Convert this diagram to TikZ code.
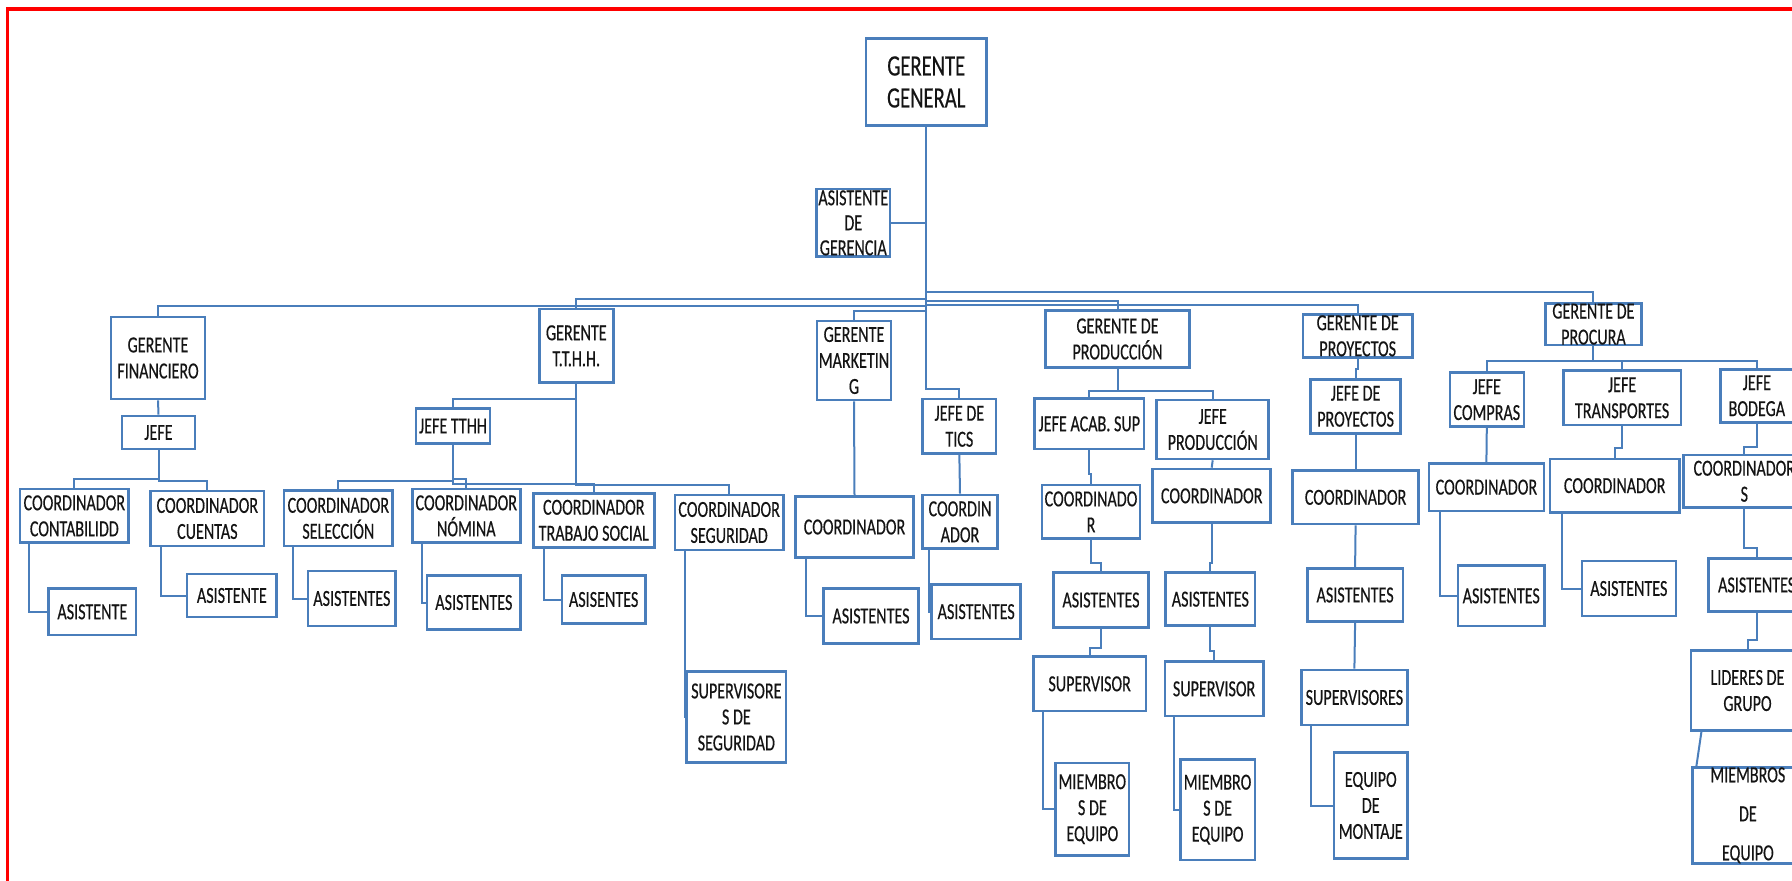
\documentclass[tikz,border=0pt]{standalone}
\usepackage{fontspec}
\newfontfamily\boxfont[FakeStretch=0.70,FakeBold=0.4]{Carlito}
\definecolor{boxblue}{RGB}{74,126,187}
\definecolor{txt}{RGB}{20,20,20}

% \orgbox[options]{name}{x1}{y1}{x2}{y2}{text}: a framed box given by its corners
\newcommand\orgbox[7][]{%
  \pgfmathsetmacro\obx{(#3+#5)/2}%
  \pgfmathsetmacro\oby{(#4+#6)/2}%
  \pgfmathsetmacro\obw{#5-#3}%
  \pgfmathsetmacro\obh{#6-#4}%
  \node[bx,minimum width=\obw pt,minimum height=\obh pt,#1] (#2) at (\obx,\oby) {#7};}

\begin{document}
\begin{tikzpicture}[x=1pt,y=-1pt,
  bx/.style={draw=boxblue,line width=2.6pt,inner sep=0pt,align=center,text=txt,
    font=\boxfont\fontsize{23}{26}\selectfont},
  ln/.style={draw=boxblue,line width=2pt},
  frame/.style={draw=red,line width=3.5pt}]
\useasboundingbox (0,0) rectangle (1792,881);
\clip (0,0) rectangle (1792,881);

% page frame
\draw[frame] (7.7,890) -- (7.7,9) -- (1800,9);

% ---- top
\orgbox[font=\boxfont\fontsize{29.5}{32}\selectfont]{gg}{866}{38.3}{986.5}{125.7}{GERENTE\\GENERAL}
\orgbox[font=\boxfont\fontsize{23}{25}\selectfont]{ag}{816.6}{189}{890}{256.7}{ASISTENTE\\DE\\GERENCIA}

% ---- finance
\orgbox{gf}{111}{317}{205}{399}{GERENTE\\FINANCIERO}
\orgbox{jf}{122}{416}{195}{449}{JEFE}
\orgbox{cc}{20}{489}{128.7}{542.7}{COORDINADOR\\CONTABILIDD}
\orgbox{cu}{150.7}{491}{264}{546}{COORDINADOR\\CUENTAS}
\orgbox{a1}{48.7}{588.7}{136}{635}{ASISTENTE}
\orgbox{a2}{187}{574}{276.7}{617}{ASISTENTE}

% ---- human resources
\orgbox{gt}{539.3}{309}{613.3}{382.7}{GERENTE\\T.T.H.H.}
\orgbox{jt}{416}{408.7}{490}{443.3}{JEFE TTHH}
\orgbox{cs}{284}{490.7}{392.7}{546}{COORDINADOR\\SELECCIÓN}
\orgbox{cn}{412.3}{489}{520.3}{542.7}{COORDINADOR\\NÓMINA}
\orgbox{ct}{533.3}{493.3}{654.3}{547.3}{COORDINADOR\\TRABAJO SOCIAL}
\orgbox{cg}{675}{495}{783.3}{550}{COORDINADOR\\SEGURIDAD}
\orgbox{a3}{308}{571}{395.7}{626}{ASISTENTES}
\orgbox{a4}{427}{575.7}{520.7}{629.3}{ASISTENTES}
\orgbox{a5}{562}{575.7}{645.3}{623.3}{ASISENTES}
\orgbox{sg}{686.7}{671.7}{786}{762.3}{SUPERVISORE\\S DE\\SEGURIDAD}

% ---- marketing and ICT
\orgbox{gm}{817}{321}{891}{400}{GERENTE\\MARKETIN\\G}
\orgbox{cm}{795.7}{496.7}{913.3}{557.3}{COORDINADOR}
\orgbox{am}{823.3}{588.7}{918.7}{643.3}{ASISTENTES}
\orgbox{jtc}{922.7}{399}{996}{453.7}{JEFE DE\\TICS}
\orgbox{cti}{922.7}{495}{997.3}{548.7}{COORDIN\\ADOR}
\orgbox{ati}{931.7}{584.3}{1020.7}{639}{ASISTENTES}

% ---- production
\orgbox{gp}{1045.7}{310.7}{1189.3}{367.3}{GERENTE DE\\PRODUCCIÓN}
\orgbox{ja}{1034.7}{398.7}{1144}{449}{JEFE ACAB. SUP}
\orgbox{jp}{1156.7}{400}{1268.7}{459}{JEFE\\PRODUCCIÓN}
\orgbox{cr}{1042}{485}{1140}{538.7}{COORDINADO\\R}
\orgbox{cp}{1152.7}{469}{1270.7}{522.7}{COORDINADOR}
\orgbox{aa}{1053.3}{572.3}{1148.7}{627.7}{ASISTENTES}
\orgbox{ap}{1165.7}{572.7}{1255}{625.7}{ASISTENTES}
\orgbox{sa}{1033.3}{656.7}{1146}{711}{SUPERVISOR}
\orgbox{sp}{1164.9}{661.7}{1263.3}{716}{SUPERVISOR}
\orgbox{ma}{1055.7}{763}{1129}{855.3}{MIEMBRO\\S DE\\EQUIPO}
\orgbox{mp}{1180.3}{759.3}{1254.9}{860}{MIEMBRO\\S DE\\EQUIPO}

% ---- projects
\orgbox{gy}{1302.9}{314.3}{1412.5}{357.3}{GERENTE DE\\PROYECTOS}
\orgbox{jy}{1310.5}{379.3}{1400.7}{433.3}{JEFE DE\\PROYECTOS}
\orgbox{cy}{1292.5}{470.7}{1418.7}{524}{COORDINADOR}
\orgbox{ay}{1307.4}{568.3}{1402.8}{621.7}{ASISTENTES}
\orgbox{sy}{1301.2}{670}{1407.6}{725}{SUPERVISORES}
\orgbox{ey}{1333.9}{752.7}{1407.6}{858.3}{EQUIPO\\DE\\MONTAJE}

% ---- procurement
\orgbox{gc}{1545.5}{303.3}{1641.3}{345}{GERENTE DE\\PROCURA}
\orgbox{jc}{1449.8}{372.7}{1523.8}{426.7}{JEFE\\COMPRAS}
\orgbox{jr}{1563.2}{370.7}{1681}{425}{JEFE\\TRANSPORTES}
\orgbox{jb}{1720.7}{369.3}{1793}{422.2}{JEFE\\BODEGA}
\orgbox{cco}{1429}{463.3}{1543.8}{511}{COORDINADOR}
\orgbox{aco}{1458}{565.7}{1544.5}{626}{ASISTENTES}
\orgbox{ctr}{1550}{459}{1679.3}{512.3}{COORDINADOR}
\orgbox{atr}{1581.8}{561}{1675.9}{616}{ASISTENTES}
\orgbox{cb}{1683.3}{455}{1805.3}{507.5}{COORDINADOR\\S}
\orgbox{ab}{1708.3}{558.4}{1805}{611.6}{ASISTENTES}
\orgbox{lg}{1691}{650.5}{1804}{730.6}{LIDERES DE\\GRUPO}
\orgbox[font=\boxfont\fontsize{23}{39}\selectfont]{me}{1692.7}{772.6}{1803}{858}{MIEMBROS\\DE\\EQUIPO}

% ---- connectors from the general manager
\draw[ln] (gg.south) -- ++(0,262.3) -| (jtc.north);
\draw[ln] (ag.east) -- (ag.east -| gg.south);
\draw[ln] (gg.south) ++(0,165) -| (gc.north);
\draw[ln] (gg.south) ++(0,171.6) -| (gt.north);
\draw[ln] (gg.south) ++(0,173.6) -| (gp.north);
\draw[ln] (gg.south) ++(0,177.6) -| (gy.north);
\draw[ln] (gg.south) ++(0,178.6) -| (gf.north);
\draw[ln] (gg.south) ++(0,183.6) -| (gm.north);

% finance
\draw[ln] (gf.south) -- (jf.north);
\draw[ln] (jf.south) -- ++(0,28.7) -| (cc.north);
\draw[ln] (jf.south) -- ++(0,31) -| (cu.north);
\draw[ln] ([xshift=10.7pt]cc.south west) |- (a1.west);
\draw[ln] ([xshift=11.3pt]cu.south west) |- (a2.west);

% human resources
\draw[ln] (gt.south) -- ++(0,15) -| (jt.north);
\draw[ln] (jt.south) -- ++(0,36.7) -| (cs.north);
\draw[ln] (jt.south) -- ++(0,34.4) -| (cn.north);
\draw[ln] (jt.south) -- ++(0,39.4) -| (ct.north);
\draw[ln] (gt.south) -- ++(0,100) -| (ct.north);
\draw[ln] (gt.south) -- ++(0,101.3) -| (cg.north);
\draw[ln] ([xshift=10.7pt]cs.south west) |- (a3.west);
\draw[ln] ([xshift=10.7pt]cn.south west) |- (a4.west);
\draw[ln] ([xshift=11.7pt]ct.south west) |- (a5.west);
\draw[ln] ([xshift=11pt]cg.south west) |- (sg.west);

% marketing and ICT
\draw[ln] (gm.south) -- (cm.north);
\draw[ln] ([xshift=12pt]cm.south west) |- (am.west);
\draw[ln] (jtc.south) -- (cti.north);
\draw[ln] ([xshift=8pt]cti.south west) |- (ati.west);

% production
\draw[ln] (gp.south) -- ++(0,22) -| (ja.north);
\draw[ln] (gp.south) -- ++(0,22) -| (jp.north);
\draw[ln] (ja.south) -- ++(0,23.7) -| (cr.north);
\draw[ln] (jp.south) -- (cp.north);
\draw[ln] (cr.south) -- ++(0,23) -| (aa.north);
\draw[ln] (cp.south) -- ++(0,39) -| (ap.north);
\draw[ln] (aa.south) -- ++(0,19) -| (sa.north);
\draw[ln] (ap.south) -- ++(0,24.3) -| (sp.north);
\draw[ln] ([xshift=11pt]sa.south west) |- (ma.west);
\draw[ln] ([xshift=10pt]sp.south west) |- (mp.west);

% projects
\draw[ln] (gy.south) -- ++(0,10.7) -| (jy.north);
\draw[ln] (jy.south) -- (cy.north);
\draw[ln] (cy.south) -- (ay.north);
\draw[ln] (ay.south) -- (sy.north);
\draw[ln] ([xshift=11.5pt]sy.south west) |- (ey.west);

% procurement
\draw[ln] (gc.south) -- ++(0,15) -| (jc.north);
\draw[ln] (gc.south) -- ++(0,15) -| (jr.north);
\draw[ln] (gc.south) -- ++(0,15) -| (jb.north);
\draw[ln] (jc.south) -- (cco.north);
\draw[ln] (jr.south) -- ++(0,21.7) -| (ctr.north);
\draw[ln] ([xshift=12pt]cco.south west) |- (aco.west);
\draw[ln] ([xshift=13.5pt]ctr.south west) |- (atr.west);
\draw[ln] (jb.south) -- ++(0,23.2) -| (cb.north);
\draw[ln] (cb.south) -- ++(0,38.9) -| (ab.north);
\draw[ln] (ab.south) -- ++(0,26.9) -| (lg.north);
\draw[ln] ([xshift=11.7pt]lg.south west) -- ([xshift=5pt]me.north west);
\end{tikzpicture}
\end{document}
